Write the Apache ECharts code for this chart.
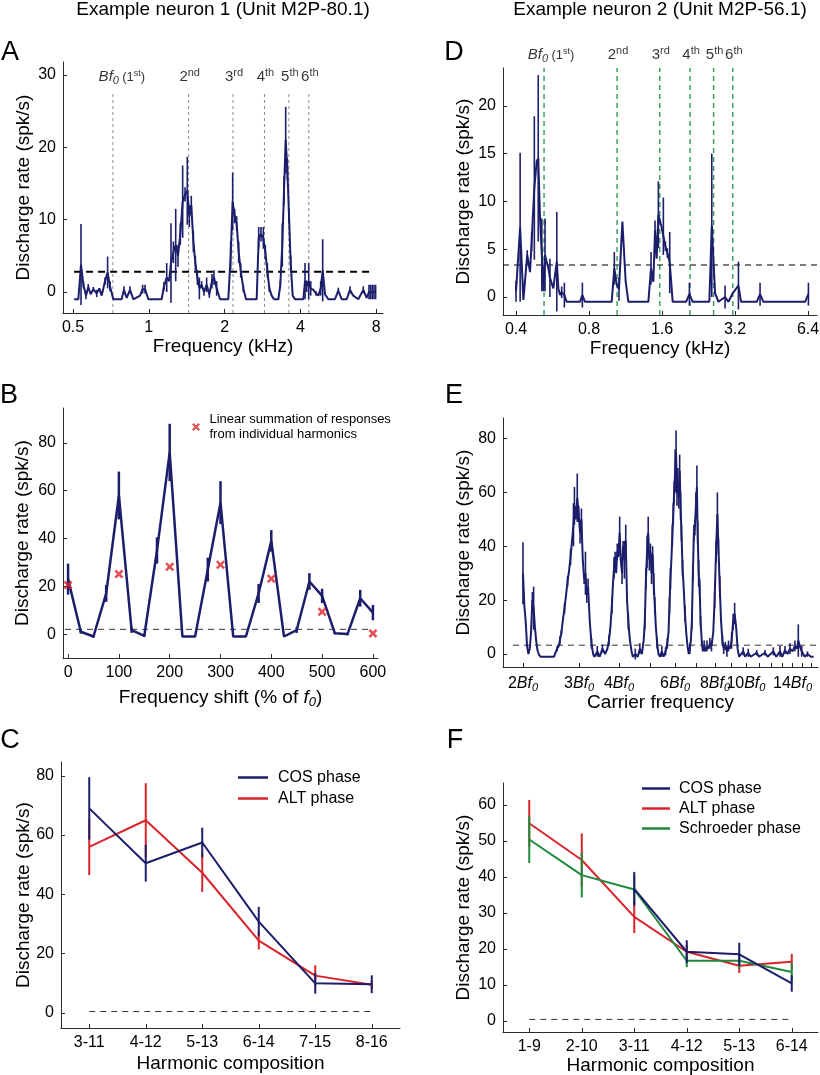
<!DOCTYPE html>
<html>
<head>
<meta charset="utf-8">
<title>Example neurons</title>
<script src="https://cdn.jsdelivr.net/npm/echarts@6.0.0/dist/echarts.min.js"></script>
<style>
html,body{margin:0;padding:0;background:#ffffff;}
#chart{width:820px;height:1075px;}
</style>
</head>
<body>
<div id="chart"></div>
<script>
// ======================= DATA =======================
const neuronTitles = ['Example neuron 1 (Unit M2P-80.1)', 'Example neuron 2 (Unit M2P-56.1)'];
const panelLetters = ['A', 'B', 'C', 'D', 'E', 'F'];
const rateAxisName = 'Discharge rate (spk/s)';
const harmonicNumbers = [1, 2, 3, 4, 5, 6];
const harmonicSuffixes = ['st', 'nd', 'rd', 'th', 'th', 'th'];

// ---- Panel A (neuron 1, pure tones) ----
const aFreq = [0.505,0.525,0.538,0.550,0.563,0.575,0.588,0.602,0.621,0.636,
  0.650,0.670,0.686,0.701,0.723,0.780,0.797,0.817,0.842,0.868,
  0.923,0.945,0.966,0.996,1.125,1.149,1.178,1.203,1.225,1.252,
  1.279,1.306,1.334,1.363,1.393,1.422,1.449,1.475,1.503,1.531,
  1.559,1.588,1.621,1.656,1.697,1.739,1.782,1.815,1.860,1.918,
  2.069,2.114,2.153,2.193,2.233,2.275,2.317,2.374,2.432,2.682,
  2.732,2.790,2.850,2.903,2.957,3.011,3.076,3.143,3.270,3.329,
  3.390,3.444,3.497,3.551,3.605,3.661,3.728,3.808,4.110,4.173,
  4.237,4.316,4.396,4.504,4.615,4.715,4.817,4.905,5.010,5.165,
  5.488,5.657,5.836,6.109,6.294,6.488,6.793,7.110,7.331,7.490,
  7.605,7.722,7.840,7.960];
const aRate = [-1,-1,3.8,1.0,-0.5,0.7,-0.3,0.4,-0.2,0.5,
  -0.5,1.5,2.7,0.8,-1,-1,0.3,-0.8,0.3,-1,
  -0.5,0.4,0.4,-1,-1,0.8,2.0,1.5,4.0,5.5,
  6.5,5.0,8.0,12.5,13.5,14.0,10.5,12.0,7.0,4.0,
  2.0,0.5,1.0,0.0,1.0,-0.3,1.5,2.0,0.5,-1,
  -1,5.0,12.5,10.5,9.5,5.5,3.0,0.5,-1,-1,
  7.5,8.0,7.5,5.5,3.0,0.5,-0.5,-1,-1,1.0,
  6.5,14.0,21.0,17.0,10.5,4.0,-0.5,-1,-1,1.5,
  0.8,1.5,0.5,0.3,-0.2,-0.5,0.5,3.0,-0.3,-1,
  -1,0.2,-1,-1,0.3,-0.5,-1,0.3,-0.8,0,
  0,0,0,0];
const aErr = [0,0,5.6,0.5,0.5,0.4,0,0.3,0.5,0,
  0,0.5,2.2,0.7,0,0,0.5,0,0.5,0,
  0,0.6,0.6,0,0,0.6,2.0,0,5.5,1.5,
  5.0,1.5,1.5,5.0,1.0,4.7,1.5,1.3,1.5,1.0,
  1.0,1.5,0.5,0.5,1.0,0.5,1.0,1.0,1.0,0,
  0,2.0,4.0,1.0,1.0,1.5,1.0,0.5,0,0,
  1.5,1.0,1.5,1.0,1.0,0.5,0,0,0,0.5,
  3.0,2.0,4.6,1.5,1.0,1.0,0,0,0,2.5,
  0.8,2.5,1.0,0,0.3,0,1.0,4.3,0,0,
  0,0.4,0,0,0.5,0,0,0.5,0,1.0,
  1.0,1.0,1.0,1.0];
const aThreshold = 2.8;
const aBf0 = 0.72;               // kHz
const aFreqTicks = [0.5, 1, 2, 4, 8];
const aRateTicks = [0, 10, 20, 30];

// ---- Panel D (neuron 2, pure tones) ----
const dFreq = [0.400,0.416,0.429,0.445,0.457,0.464,0.476,0.487,0.494,0.503,
  0.511,0.519,0.527,0.535,0.544,0.552,0.570,0.589,0.598,0.608,
  0.617,0.633,0.647,0.734,0.751,0.770,0.992,1.017,1.040,1.063,
  1.098,1.133,1.162,1.405,1.441,1.473,1.497,1.520,1.545,1.590,
  1.620,1.652,1.683,1.721,1.770,2.010,2.074,2.140,2.507,2.565,
  2.647,2.732,2.910,3.004,3.130,3.304,3.387,3.932,4.056,4.188,
  6.220,6.420];
const dRate = [0.6,7.3,-0.3,4.4,2.6,5.8,11.4,14.2,14.5,8.0,
  4.4,0.6,4.4,3.7,3.0,2.0,0.9,3.7,0.9,0.2,
  0.5,0.2,-0.5,-0.5,0.2,-0.5,-0.5,3.0,1.3,0.8,
  7.9,1.6,-0.5,-0.5,3.0,1.6,7.0,4.0,8.6,7.4,
  7.4,5.3,4.6,3.6,-0.5,-0.5,0.3,-0.5,-0.5,7.5,
  0.4,-0.5,0,-0.5,0.4,1.2,-0.5,-0.5,0.3,-0.5,
  -0.5,0.3];
const dErr = [1.1,7.8,0,0.5,0,1.0,7.5,0,8.7,0,
  3.8,0,3.8,0,0,2.0,0,5.2,0,0,
  0.6,1.3,0,0,1.3,0,0,1.7,0,1.2,
  0,0,0,0,1.7,0,1.0,0,3.5,0,
  3.0,0.5,0.5,3.2,0,0,1.2,0,0,7.5,
  0,0,1.2,0,0,2.5,0,0,1.2,0,
  0,1.2];
const dThreshold = 3.35;
const dBf0 = 0.522;              // kHz
const dFreqTicks = [0.4, 0.8, 1.6, 3.2, 6.4];
const dRateTicks = [0, 5, 10, 15, 20];

// ---- Panel B (frequency-shifted harmonic complex) ----
const bShift = [0,25,50,75,100,125,150,175,200,225,250,275,300,325,350,375,400,425,450,475,500,525,550,575,600];
const bRate = [23,1,-1,17,58,1.7,-0.7,35,76,-1,-1,27,55,-1,-1,17,39,-1,1.7,22,16,0.4,0,15,9];
const bErr = [6.5,0.8,0.5,3.5,10,1.2,0.5,5.5,12,0,0,5,9,0,0,4,4.5,0,1.2,3.5,3,0.5,0.5,3.5,3.2];
const bLinShift = [0,100,200,300,400,500,600];
const bLinRate = [20.5,25.1,28.2,29.0,23.2,9.3,0.3];
const bThreshold = 2;
const bShiftTicks = [0,100,200,300,400,500,600];
const bRateTicks = [0,20,40,60,80];
const bLegendText = 'Linear summation of responses\nfrom individual harmonics';

// ---- Panel E (carrier frequency, multiples of Bf0) ----
const eCarrier = [2.00,2.02,2.04,2.06,2.08,2.10,2.12,2.14,2.16,2.18,
  2.20,2.22,2.24,2.27,2.50,2.53,2.56,2.59,2.61,2.64,
  2.67,2.70,2.73,2.76,2.79,2.82,2.85,2.88,2.90,2.93,
  2.96,2.99,3.02,3.05,3.08,3.11,3.14,3.17,3.20,3.24,
  3.28,3.32,3.35,3.42,3.48,3.55,3.62,3.68,3.72,3.76,
  3.80,3.83,3.86,3.89,3.92,3.95,3.98,4.02,4.05,4.09,
  4.12,4.16,4.20,4.24,4.28,4.33,4.38,4.42,4.50,4.58,
  4.65,4.72,4.78,4.82,4.86,4.90,4.94,4.98,5.02,5.06,
  5.10,5.14,5.18,5.22,5.27,5.32,5.38,5.45,5.52,5.60,
  5.67,5.72,5.76,5.80,5.84,5.88,5.92,5.96,6.00,6.04,
  6.08,6.12,6.16,6.20,6.24,6.28,6.33,6.38,6.44,6.50,
  6.56,6.62,6.67,6.72,6.77,6.82,6.87,6.92,6.97,7.02,
  7.06,7.11,7.16,7.21,7.27,7.33,7.40,7.46,7.55,7.63,
  7.71,7.80,7.90,7.98,8.06,8.14,8.20,8.28,8.36,8.44,
  8.52,8.62,8.72,8.82,8.92,9.02,9.12,9.22,9.32,9.42,
  9.52,9.65,9.81,9.95,10.17,10.35,10.81,11.00,11.48,11.70,
  12.19,12.45,12.79,13.00,13.26,13.50,13.75,14.00,14.25,14.45,
  14.60,14.75,14.96,15.30,15.60,16.00,16.30];
const eRate = [30,18,12,3,0,2,8,20,17,10,
  5,1.5,0,-1,-1,0.5,2,3,5,8,
  13,17,22,27,31,36,42,48,55,50,
  58,52,45,50,35,28,30,22,25,12,
  4,0,-1,1,-1,2,0,2,5,10,
  18,26,32,36,30,38,36,45,35,30,
  40,35,42,20,12,5,1,-1,0,-1,
  2,0,5,12,28,38,45,35,38,30,
  37,26,18,10,4,0,-1,1,-1,1,
  4,8,18,28,35,44,52,60,68,75,
  60,64,58,68,55,45,32,25,15,8,
  3,0,2,5,12,30,45,47,55,62,
  45,30,25,12,5,1,3,1,3,2,
  4,3,8,20,38,52,40,25,12,5,
  2,3,1,3,2,5,12,15,10,2,
  -1,-1,1,-1,0.5,-1,0.5,-1,0.5,-1,
  1,-1,1,-1,1.5,0,2,1,3,2,
  5,3,1,-1,0,-1,-1];
const eErr = [11.5,0,0,0,0,0,0,3,8,0,
  0,0,0,0,0,0,1,0,1.5,1,
  0,2,0,2,0,3,0,8,7,0,
  9,3,4,4,0,2,8,3,3,0,
  2,0,0,2,0,1.5,0,0,2,0,
  3,0,4,2,0,3,0,6,0,4,
  2,7,6,0,3,0,0,0,2,0,
  2,0,0,3,4,6,6,4,3,4,
  3,4,3,0,2,0,0,2,0,1.5,
  2,0,3,4,0,4,4,4,8,8,
  5,5,4,6,5,3,3,0,3,0,
  0,0,2,0,3,3,3,3,5,8,
  4,5,3,2,0,0,2,0,2,0,
  2,2,0,3,4,8,3,4,0,2,
  2,1.5,2,2,0,3,3,4,0,0,
  0,0,1.5,0,1.5,0,1,0,1,0,
  1.5,0,2,0,1.5,0,2,0,2,0,
  6,0,2,0,1,0,0];
const eThreshold = 3.3;
const eTickMultiples = [2,3,4,5,6,7,8,9,10,11,12,13,14,15,16];
const eLabelMultiples = [2,3,4,6,8,10,14];
const eRateTicks = [0,20,40,60,80];

// ---- Panel C (neuron 1, phase conditions) ----
const cCompositions = ['3-11','4-12','5-13','6-14','7-15','8-16'];
const cCos = [69, 50.5, 57.5, 30.8, 10, 9.7];
const cCosErr = [10.5, 6.2, 5, 5, 3.5, 3];
const cAlt = [56, 65, 47.3, 24.4, 12.6, 9.5];
const cAltErr = [9.5, 12.5, 6.5, 3, 3.5, 1.5];
const cThreshold = 0.5;
const cRateTicks = [0,20,40,60,80];

// ---- Panel F (neuron 2, phase conditions) ----
const fCompositions = ['1-9','2-10','3-11','4-12','5-13','6-14'];
const fCos = [null, null, 36.7, 19.2, 18.5, 10.4];
const fCosErr = [null, null, 4.7, 3.2, 3.2, 2.3];
const fAlt = [54.9, 44.7, 28.9, 19.2, 15.3, 16.4];
const fAltErr = [6.5, 7.4, 4.5, 2, 2, 2.2];
const fSch = [50.4, 40.5, 36.5, 16.7, 16.7, 13.6];
const fSchErr = [6.5, 6.2, 4, 1.8, 2.2, 2.5];
const fThreshold = 0.4;
const fRateTicks = [0,10,20,30,40,50,60];

const seriesNames = ['COS phase', 'ALT phase', 'Schroeder phase'];

// ======================= STYLE / LAYOUT =======================
const FONT = 'Liberation Sans, Arial, Helvetica, sans-serif';
const INK = '#000000';
const AX = '#2a2a2a';
const NAVY = '#1c1e6b';
const RED = '#d8242a';
const GREEN = '#1f8a3d';
const HGRAY = '#8c8c8c';
const HGREEN = '#2f9d57';
const L2 = Math.log2;

const G = { A:0, B:1, C:2, D:3, E:4, F:5 };
const grids = [
  {left:63, top:62, width:320, height:251},
  {left:63, top:408, width:315, height:250},
  {left:61, top:762, width:339, height:266},
  {left:503, top:68, width:314, height:247},
  {left:503, top:418, width:315, height:249},
  {left:503, top:783, width:315, height:249}
].map(g => Object.assign({outerBoundsMode:'none', containLabel:false, show:false}, g));

const yExt = [[-2.9, 31.8], [-10, 94.6], [-5.06, 84.65], [-1.88, 23.95], [-4.8, 87.6], [-3.1, 66.1]];
const yTicks = [aRateTicks, bRateTicks, cRateTicks, dRateTicks, eRateTicks, fRateTicks];
const yNameGap = [30, 31, 28, 30, 30, 30];

const A_HARM_TOP = 27.7, A_LABEL_Y = 29.7, D_LABEL_Y = 25.3;

const labelBase = {fontSize:16, color:INK, fontFamily:FONT};
const nameBase = {fontSize:19, color:INK, fontFamily:FONT};

function axisCommon(gi) {
  return {
    gridIndex: gi,
    splitLine: {show:false},
    axisLine: {show:true, onZero:false, lineStyle:{color:AX, width:1}},
    nameLocation: 'middle',
    nameMoveOverlap: false,
    nameTextStyle: Object.assign({}, nameBase)
  };
}

const yAxes = grids.map((g, gi) => Object.assign(axisCommon(gi), {
  type: 'value', min: yExt[gi][0], max: yExt[gi][1],
  name: rateAxisName, nameRotate: 90, nameGap: yNameGap[gi],
  axisTick: {show:true, inside:true, length:4, customValues: yTicks[gi], lineStyle:{color:AX}},
  axisLabel: Object.assign({show:true, customValues: yTicks[gi], margin:7}, labelBase)
}));

const fmtPow = v => String(+Math.pow(2, v).toFixed(2));
const bfRich = {
  n: {fontSize:16, fontFamily:FONT, color:INK, lineHeight:22},
  i: {fontSize:16, fontFamily:FONT, color:INK, fontStyle:'italic', lineHeight:22},
  s: {fontSize:11, fontFamily:FONT, color:INK, fontStyle:'italic', lineHeight:22, padding:[8,0,0,0]}
};

const xAxes = [];
// A
xAxes[G.A] = Object.assign(axisCommon(G.A), {
  type:'value', min:-1.132, max:3.09, name:'Frequency (kHz)', nameGap:24,
  axisTick:{show:true, inside:true, length:4, customValues:aFreqTicks.map(L2), lineStyle:{color:AX}},
  axisLabel:Object.assign({show:true, customValues:aFreqTicks.map(L2), formatter:fmtPow, margin:7}, labelBase)
});
// B
xAxes[G.B] = Object.assign(axisCommon(G.B), {
  type:'value', min:-10, max:610, name:'Frequency shift (% of {i|f}{s|0})', nameGap:28,
  axisTick:{show:true, inside:true, length:4, customValues:bShiftTicks, lineStyle:{color:AX}},
  axisLabel:Object.assign({show:true, customValues:bShiftTicks, margin:7}, labelBase)
});
xAxes[G.B].nameTextStyle.lineHeight = 24;
xAxes[G.B].nameTextStyle.rich = {
  i:{fontSize:19, fontFamily:FONT, color:INK, fontStyle:'italic', lineHeight:24},
  s:{fontSize:13, fontFamily:FONT, color:INK, fontStyle:'italic', lineHeight:24, padding:[9,0,0,0]}
};
// C
xAxes[G.C] = Object.assign(axisCommon(G.C), {
  type:'category', data:cCompositions, boundaryGap:true, name:'Harmonic composition', nameGap:26,
  axisTick:{show:true, inside:true, length:4, alignWithLabel:true, lineStyle:{color:AX}},
  axisLabel:Object.assign({show:true, interval:0, margin:7}, labelBase)
});
// D
xAxes[G.D] = Object.assign(axisCommon(G.D), {
  type:'value', min:-1.5, max:2.8, name:'Frequency (kHz)', nameGap:24,
  axisTick:{show:true, inside:true, length:4, customValues:dFreqTicks.map(L2), lineStyle:{color:AX}},
  axisLabel:Object.assign({show:true, customValues:dFreqTicks.map(L2), formatter:fmtPow, margin:7}, labelBase)
});
// E
xAxes[G.E] = Object.assign(axisCommon(G.E), {
  type:'value', min:0.792, max:4.073, name:'Carrier frequency', nameGap:26,
  axisTick:{show:true, inside:true, length:4, customValues:eTickMultiples.map(L2), lineStyle:{color:AX}},
  axisLabel:Object.assign({show:true, customValues:eLabelMultiples.map(L2), margin:6,
    formatter: v => '{n|' + Math.round(Math.pow(2, v)) + '}{i|Bf}{s|0}', rich:bfRich}, labelBase)
});
// F
xAxes[G.F] = Object.assign(axisCommon(G.F), {
  type:'category', data:fCompositions, boundaryGap:true, name:'Harmonic composition', nameGap:24,
  axisTick:{show:true, inside:true, length:4, alignWithLabel:true, lineStyle:{color:AX}},
  axisLabel:Object.assign({show:true, interval:0, margin:7}, labelBase)
});

// ======================= SERIES HELPERS =======================
function lineS(gi, name, data, color, width, type, z) {
  return {type:'line', name, xAxisIndex:gi, yAxisIndex:gi, data, symbol:'none', showSymbol:false,
    lineStyle:{color, width, type: type || 'solid'}, itemStyle:{color}, z: z || 3, silent:true,
    animation:false, connectNulls:false, clip:false};
}
function errS(gi, name, data, color, width, z) {
  return {type:'custom', name, xAxisIndex:gi, yAxisIndex:gi, data, z: z || 3, silent:true, animation:false,
    encode:{x:0, y:1},
    renderItem: (params, api) => {
      const x = api.value(0), y = api.value(1), e = api.value(2);
      const p1 = api.coord([x, y - e]), p2 = api.coord([x, y + e]);
      return {type:'line', shape:{x1:p1[0], y1:p1[1], x2:p2[0], y2:p2[1]},
        style:{stroke:color, lineWidth:width, lineCap:'butt'}};
    }};
}
function errTriples(xs, ys, es, tx) {
  const out = [];
  xs.forEach((x, i) => { if (ys[i] == null || !es[i]) return; out.push([tx ? tx(x) : x, ys[i], es[i]]); });
  return out;
}
function pairs(xs, ys, tx) { return xs.map((x, i) => [tx ? tx(x) : x, ys[i]]); }
const idx6 = [0,1,2,3,4,5];

const harmRich = {
  b:{fontSize:15, fontFamily:FONT, color:INK, lineHeight:19},
  bi:{fontSize:15, fontFamily:FONT, color:INK, fontStyle:'italic', lineHeight:19},
  sb:{fontSize:11, fontFamily:FONT, color:INK, fontStyle:'italic', lineHeight:19, padding:[7,0,0,0]},
  p:{fontSize:13, fontFamily:FONT, color:INK, lineHeight:19},
  sp:{fontSize:9, fontFamily:FONT, color:INK, lineHeight:19, padding:[0,0,8,0]},
  spb:{fontSize:11, fontFamily:FONT, color:INK, lineHeight:19, padding:[0,0,9,0]}
};
function harmText(i) {
  if (i === 0) return '{bi|Bf}{sb|0} {p|(1}{sp|' + harmonicSuffixes[0] + '}{p|)}';
  return '{b|' + harmonicNumbers[i] + '}{spb|' + harmonicSuffixes[i] + '}';
}
function harmLabels(gi, bf0, yv, firstOffset) {
  return {type:'scatter', xAxisIndex:gi, yAxisIndex:gi, symbolSize:1, clip:false, silent:true, z:10,
    itemStyle:{color:'rgba(0,0,0,0)'},
    label:{show:true, position:'inside', formatter: p => harmText(p.dataIndex), rich:harmRich, color:INK},
    data: harmonicNumbers.map((n, i) => ({value:[L2(n * bf0), yv], label:{offset:[i === 0 ? firstOffset : 1, 0]}})),
    animation:false};
}
function harmLines(gi, bf0, yLow, yTop, color, width, dash) {
  return harmonicNumbers.map(n => lineS(gi, 'h' + gi + '_' + n, [[L2(n * bf0), yLow], [L2(n * bf0), yTop]], color, width, dash, 1));
}

const XPATH = 'path://M0,2 L2,0 L5,3 L8,0 L10,2 L7,5 L10,8 L8,10 L5,7 L2,10 L0,8 L3,5 Z';

const series = [];
// ----- A -----
series.push(...harmLines(G.A, aBf0, yExt[G.A][0], A_HARM_TOP, HGRAY, 1, [3, 3]));
series.push(harmLabels(G.A, aBf0, A_LABEL_Y, 9));
series.push(lineS(G.A, 'A threshold', [[L2(0.505), aThreshold], [L2(7.75), aThreshold]], INK, 2, [7, 5], 2));
series.push(errS(G.A, 'A err', errTriples(aFreq, aRate, aErr, L2), NAVY, 1.6, 4));
series.push(lineS(G.A, 'A rate', pairs(aFreq, aRate, L2), NAVY, 2, 'solid', 5));
// ----- D -----
series.push(...harmLines(G.D, dBf0, yExt[G.D][0], yExt[G.D][1], HGREEN, 1.4, [5, 4]));
series.push(harmLabels(G.D, dBf0, D_LABEL_Y, 7));
series.push(lineS(G.D, 'D threshold', [[-1.5, dThreshold], [2.8, dThreshold]], INK, 1, [6, 5], 2));
series.push(errS(G.D, 'D err', errTriples(dFreq, dRate, dErr, L2), NAVY, 1.6, 4));
series.push(lineS(G.D, 'D rate', pairs(dFreq, dRate, L2), NAVY, 2, 'solid', 5));
// ----- B -----
series.push(lineS(G.B, 'B threshold', [[-6, bThreshold], [600, bThreshold]], '#333', 1, [6, 5], 2));
series.push(errS(G.B, 'B err', errTriples(bShift, bRate, bErr), NAVY, 2.5, 4));
series.push(lineS(G.B, 'B rate', pairs(bShift, bRate), NAVY, 2.5, 'solid', 5));
series.push({type:'scatter', name:bLegendText, xAxisIndex:G.B, yAxisIndex:G.B, data:pairs(bLinShift, bLinRate),
  symbol:XPATH, symbolSize:9, itemStyle:{color:RED}, z:6, silent:true, clip:false, animation:false});
// ----- E -----
series.push(lineS(G.E, 'E threshold', [[L2(1.86), eThreshold], [4.073, eThreshold]], '#333', 1, [6, 5], 2));
series.push(errS(G.E, 'E err', errTriples(eCarrier, eRate, eErr, L2), NAVY, 1.6, 4));
series.push(lineS(G.E, 'E rate', pairs(eCarrier, eRate, L2), NAVY, 2, 'solid', 5));
// ----- C -----
series.push(lineS(G.C, 'C threshold', cCompositions.map(() => cThreshold), '#333', 1, [6, 5], 2));
series.push(errS(G.C, 'C alt err', errTriples(idx6, cAlt, cAltErr), RED, 2, 3));
series.push(lineS(G.C, seriesNames[1], cAlt, RED, 2, 'solid', 3));
series.push(errS(G.C, 'C cos err', errTriples(idx6, cCos, cCosErr), NAVY, 2, 5));
series.push(lineS(G.C, seriesNames[0], cCos, NAVY, 2, 'solid', 5));
// ----- F -----
series.push(lineS(G.F, 'F threshold', fCompositions.map(() => fThreshold), '#333', 1, [6, 5], 2));
series.push(errS(G.F, 'F alt err', errTriples(idx6, fAlt, fAltErr), RED, 2, 3));
series.push(lineS(G.F, seriesNames[1] + ' ', fAlt, RED, 2, 'solid', 3));
series.push(errS(G.F, 'F sch err', errTriples(idx6, fSch, fSchErr), GREEN, 2, 4));
series.push(lineS(G.F, seriesNames[2], fSch, GREEN, 2, 'solid', 4));
series.push(errS(G.F, 'F cos err', errTriples(idx6, fCos, fCosErr), NAVY, 2, 5));
series.push(lineS(G.F, seriesNames[0] + ' ', fCos, NAVY, 2, 'solid', 5));

// ======================= TEXT =======================
const titlePos = [[223, 10], [660, 10]];
const letterPos = [[10, 53], [9, 396], [10, 741], [454, 53], [454, 396], [455, 741]];
const graphic = [];
neuronTitles.forEach((t, i) => graphic.push({type:'text', x:titlePos[i][0], y:titlePos[i][1], silent:true,
  style:{text:t, fontSize:19, fontFamily:FONT, fill:INK, align:'center', verticalAlign:'middle'}}));
panelLetters.forEach((l, i) => graphic.push({type:'text', x:letterPos[i][0], y:letterPos[i][1], silent:true,
  style:{text:l, fontSize:27, fontFamily:FONT, fill:INK, align:'center', verticalAlign:'middle'}}));

const legendText = {color:INK, fontFamily:FONT};
const legend = [
  {data:[bLegendText], left:192, top:412, itemWidth:17, itemHeight:8, icon:XPATH, selectedMode:false, padding:0,
   textStyle:Object.assign({fontSize:13, lineHeight:15}, legendText)},
  {data:[seriesNames[0], seriesNames[1]], orient:'vertical', left:238, top:769, itemWidth:30, itemHeight:2.5, itemGap:4,
   icon:'rect', selectedMode:false, padding:0,
   textStyle:Object.assign({fontSize:16, lineHeight:17, padding:[0,0,0,5]}, legendText)},
  {data:[seriesNames[0] + ' ', seriesNames[1] + ' ', seriesNames[2]], orient:'vertical', left:642, top:780, itemWidth:28, itemHeight:2.5, itemGap:3,
   icon:'rect', selectedMode:false, padding:0, formatter: n => n.trim(),
   textStyle:Object.assign({fontSize:16, lineHeight:17, padding:[0,0,0,4]}, legendText)}
];

const chart = echarts.init(document.getElementById('chart'), null, {renderer:'canvas', width:820, height:1075});
chart.setOption({
  animation:false,
  backgroundColor:'#ffffff',
  textStyle:{fontFamily:FONT},
  grid:grids,
  xAxis:xAxes,
  yAxis:yAxes,
  legend,
  graphic,
  series
});
</script>
</body>
</html>
